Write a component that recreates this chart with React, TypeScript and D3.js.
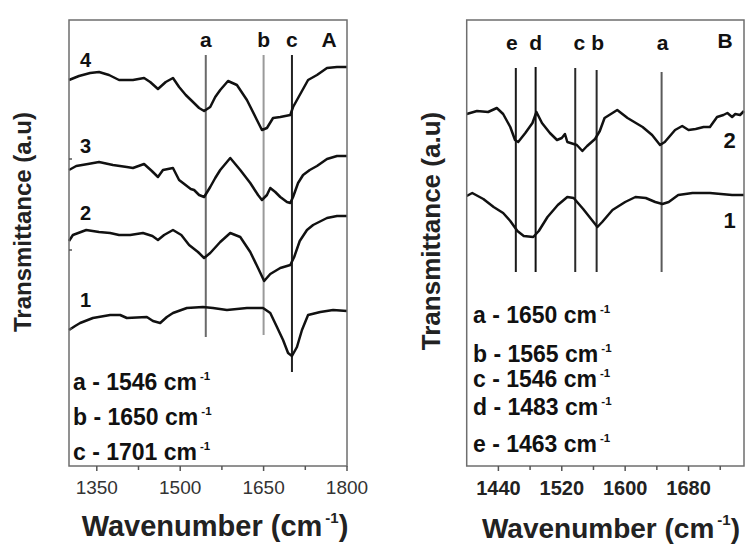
import React from "react";
import * as d3 from "d3";

// ---------- Panel A data (wavenumber, transmittance a.u.) ----------
const a4Wn = [1300, 1318, 1338, 1354, 1372, 1390, 1415, 1435, 1446, 1460, 1474, 1487, 1498, 1510, 1523, 1534, 1543, 1554, 1563, 1572, 1586, 1602, 1620, 1638, 1647, 1656, 1667, 1680, 1698, 1703, 1715, 1730, 1746, 1764, 1782, 1800];
const a4T = [386, 390, 393, 394, 391, 386, 386, 388, 384, 377, 384, 388, 379, 371, 364, 358, 355, 359, 369, 376, 385, 381, 366, 346, 336, 338, 348, 349, 351, 359, 371, 386, 391, 398, 399, 399];

const a3Wn = [1300, 1313, 1334, 1354, 1379, 1404, 1415, 1435, 1449, 1460, 1469, 1487, 1498, 1505, 1519, 1525, 1534, 1543, 1554, 1563, 1572, 1590, 1608, 1626, 1640, 1647, 1656, 1662, 1671, 1680, 1692, 1698, 1703, 1712, 1721, 1733, 1746, 1764, 1782, 1800];
const a3T = [296, 300, 302, 304, 301, 299, 298, 302, 295, 289, 296, 298, 286, 283, 277, 276, 271, 269, 279, 288, 296, 308, 296, 283, 271, 266, 271, 278, 274, 269, 264, 263, 269, 283, 291, 296, 300, 307, 310, 310];

const a2Wn = [1300, 1307, 1331, 1354, 1374, 1390, 1410, 1433, 1450, 1460, 1471, 1487, 1502, 1516, 1532, 1543, 1554, 1572, 1590, 1608, 1626, 1640, 1651, 1662, 1680, 1698, 1705, 1715, 1728, 1739, 1764, 1782, 1800];
const a2T = [225, 231, 236, 234, 233, 231, 231, 233, 230, 226, 231, 236, 231, 221, 214, 208, 213, 224, 233, 229, 214, 198, 185, 192, 198, 201, 209, 225, 236, 241, 248, 250, 250];

const a1Wn = [1300, 1311, 1320, 1343, 1374, 1392, 1404, 1440, 1451, 1464, 1476, 1487, 1512, 1541, 1559, 1584, 1620, 1649, 1662, 1674, 1685, 1694, 1701, 1710, 1719, 1730, 1752, 1775, 1800];
const a1T = [136, 140, 143, 148, 151, 151, 148, 149, 145, 143, 149, 153, 158, 159, 158, 156, 158, 158, 153, 139, 126, 113, 110, 119, 136, 151, 154, 156, 155];

const aCurveNames = ["4", "3", "2", "1"];
const aCurveLabelT = [399, 313, 246, 159];

const aMarkerNames = ["a", "b", "c"];
const aMarkerWn = [1546, 1650, 1701];
const aMarkerBottomT = [129, 131, 94];
const aMarkerColors = ["#6a6a6a", "#9a9a9a", "#222"];

const aLegend = ["a - 1546 cm", "b - 1650 cm", "c - 1701 cm"];
const aXTicks = [1350, 1500, 1650, 1800];
const aXMinor = [1425, 1575, 1725];
const aYMinor = [137, 216, 307];

// ---------- Panel B data ----------
const b2Wn = [1400, 1413, 1427, 1438, 1446, 1455, 1461, 1465, 1474, 1483, 1488, 1495, 1505, 1514, 1520, 1524, 1527, 1539, 1546, 1552, 1562, 1568, 1574, 1590, 1603, 1622, 1634, 1644, 1650, 1663, 1672, 1680, 1689, 1699, 1707, 1716, 1724, 1729, 1735, 1739, 1745, 1750];
const b2T = [352, 355, 354, 358, 352, 339, 326, 324, 333, 343, 354, 343, 333, 326, 328, 332, 324, 321, 315, 320, 327, 335, 348, 356, 348, 339, 331, 321, 324, 336, 340, 336, 337, 339, 339, 349, 351, 353, 349, 352, 351, 355];

const b1Wn = [1400, 1407, 1421, 1434, 1446, 1455, 1464, 1472, 1484, 1491, 1502, 1515, 1527, 1535, 1547, 1559, 1565, 1571, 1584, 1600, 1613, 1626, 1638, 1647, 1655, 1667, 1685, 1707, 1735, 1750];
const b1T = [270, 273, 267, 259, 253, 245, 235, 230, 229, 235, 249, 261, 269, 268, 257, 245, 239, 244, 256, 264, 269, 268, 264, 262, 264, 271, 273, 273, 271, 271];

const bCurveNames = ["2", "1"];
const bCurveLabelT = [318, 238];

const bMarkerNames = ["e", "d", "c", "b", "a"];
const bMarkerWn = [1462, 1487, 1537, 1564, 1646];
const bMarkerTopT = [398, 399, 398, 396, 394];
const bMarkerLabelDx = [-4, 0, 4, 1, 1];
const bMarkerColors = ["#1a1a1a", "#111", "#2a2a2a", "#2a2a2a", "#5a5a5a"];

const bLegend = ["a - 1650 cm", "b - 1565 cm", "c - 1546 cm", "d - 1483 cm", "e - 1463 cm"];
const bLegendBaselines = [323, 362, 387, 415, 452];
const bXTicks = [1440, 1520, 1600, 1680];
const bXMinor = [1480, 1560, 1640, 1720];

// ---------- layout ----------
const FONT = "'Liberation Sans', Arial, Helvetica, sans-serif";
const TOP = 20;
const BOTTOM = 466;

const y = d3.scaleLinear().domain([0, 446]).range([BOTTOM, TOP]);
const xA = d3.scaleLinear().domain([1300, 1800]).range([69, 347]);
const xB = d3.scaleLinear().domain([1400, 1750]).range([466.7, 744]);

function zip(wn: number[], t: number[]) {
  return wn.map((w, i) => [w, t[i]] as [number, number]);
}

function CmText({ x, yPos, text, size, weight = 700 }: { x: number; yPos: number; text: string; size: number; weight?: number }) {
  return (
    <text x={x} y={yPos} fontFamily={FONT} fontSize={size} fontWeight={weight} fill="#111">
      {text}
      <tspan dx={3} dy={-size * 0.45} fontSize={size * 0.5}>-1</tspan>
    </text>
  );
}

export default function App() {
  const lineA = d3.line<[number, number]>().x((d) => xA(d[0])).y((d) => y(d[1]));
  const lineB = d3.line<[number, number]>().x((d) => xB(d[0])).y((d) => y(d[1]));

  const aCurves = [zip(a4Wn, a4T), zip(a3Wn, a3T), zip(a2Wn, a2T), zip(a1Wn, a1T)];
  const bCurves = [zip(b2Wn, b2T), zip(b1Wn, b1T)];

  const [ax0, ax1] = xA.range();
  const [bx0, bx1] = xB.range();

  return (
    <div style={{ position: "fixed", left: 0, top: 0, width: 753, height: 544, background: "#fff" }}>
      <svg width={753} height={544} style={{ display: "block" }}>
        <rect width={753} height={544} fill="#fff" />

        {/* ===== Panel A ===== */}
        {aMarkerWn.map((w, i) => (
          <line key={"am" + i} x1={xA(w)} x2={xA(w)} y1={y(411)} y2={y(aMarkerBottomT[i])} stroke={aMarkerColors[i]} strokeWidth={2} />
        ))}
        {aCurves.map((c, i) => (
          <path key={"ac" + i} d={lineA(c) || ""} fill="none" stroke="#111" strokeWidth={2.5} strokeLinejoin="round" />
        ))}
        <rect x={ax0} y={TOP} width={ax1 - ax0} height={BOTTOM - TOP} fill="none" stroke="#6e6e6e" strokeWidth={1.5} />
        {aXTicks.map((t) => (
          <g key={"axt" + t}>
            <line x1={xA(t)} x2={xA(t)} y1={BOTTOM} y2={BOTTOM + 5} stroke="#555" strokeWidth={1.5} />
            <text x={xA(t)} y={494} textAnchor="middle" fontFamily={FONT} fontSize={19} fill="#333">{t}</text>
          </g>
        ))}
        {aXMinor.map((t) => (
          <line key={"axm" + t} x1={xA(t)} x2={xA(t)} y1={BOTTOM} y2={BOTTOM + 4} stroke="#555" strokeWidth={1.5} />
        ))}
        {aYMinor.map((t) => (
          <line key={"aym" + t} x1={ax0} x2={ax0 + 3} y1={y(t)} y2={y(t)} stroke="#555" strokeWidth={1.5} />
        ))}
        {aMarkerNames.map((n, i) => (
          <text key={"amn" + i} x={xA(aMarkerWn[i])} y={47} textAnchor="middle" fontFamily={FONT} fontSize={21} fontWeight={700} fill="#111">{n}</text>
        ))}
        <text x={329} y={47} textAnchor="middle" fontFamily={FONT} fontSize={21} fontWeight={700} fill="#111">A</text>
        {aCurveNames.map((n, i) => (
          <text key={"acn" + i} x={xA(1330)} y={y(aCurveLabelT[i])} textAnchor="middle" fontFamily={FONT} fontSize={20} fontWeight={700} fill="#111">{n}</text>
        ))}
        {aLegend.map((s, i) => (
          <CmText key={"al" + i} x={73} yPos={390 + i * 35} text={s} size={23} />
        ))}
        <text transform="translate(31,222) rotate(-90)" textAnchor="middle" fontFamily={FONT} fontSize={24} fontWeight={700} fill="#222">Transmittance (a.u)</text>
        <text x={215} y={536} textAnchor="middle" fontFamily={FONT} fontSize={29} fontWeight={700} fill="#222">
          Wavenumber (cm<tspan dx={3} dy={-13} fontSize={15}>-1</tspan><tspan dy={13}>)</tspan>
        </text>

        {/* ===== Panel B ===== */}
        {bMarkerWn.map((w, i) => (
          <line key={"bm" + i} x1={xB(w)} x2={xB(w)} y1={y(bMarkerTopT[i])} y2={y(194)} stroke={bMarkerColors[i]} strokeWidth={2} />
        ))}
        {bCurves.map((c, i) => (
          <path key={"bc" + i} d={lineB(c) || ""} fill="none" stroke="#111" strokeWidth={2.5} strokeLinejoin="round" />
        ))}
        <rect x={bx0} y={TOP} width={bx1 - bx0} height={BOTTOM - TOP} fill="none" stroke="#6e6e6e" strokeWidth={1.5} />
        {bXTicks.map((t) => (
          <g key={"bxt" + t}>
            <line x1={xB(t)} x2={xB(t)} y1={BOTTOM} y2={BOTTOM + 5} stroke="#555" strokeWidth={1.5} />
            <text x={xB(t)} y={495} textAnchor="middle" fontFamily={FONT} fontSize={20} fontWeight={700} fill="#222">{t}</text>
          </g>
        ))}
        {bXMinor.map((t) => (
          <line key={"bxm" + t} x1={xB(t)} x2={xB(t)} y1={BOTTOM} y2={BOTTOM + 4} stroke="#555" strokeWidth={1.5} />
        ))}
        {bMarkerNames.map((n, i) => (
          <text key={"bmn" + i} x={xB(bMarkerWn[i]) + bMarkerLabelDx[i]} y={50} textAnchor="middle" fontFamily={FONT} fontSize={21} fontWeight={700} fill="#111">{n}</text>
        ))}
        <text x={725} y={48} textAnchor="middle" fontFamily={FONT} fontSize={21} fontWeight={700} fill="#111">B</text>
        {bCurveNames.map((n, i) => (
          <text key={"bcn" + i} x={xB(1732)} y={y(bCurveLabelT[i])} textAnchor="middle" fontFamily={FONT} fontSize={22} fontWeight={700} fill="#111">{n}</text>
        ))}
        {bLegend.map((s, i) => (
          <CmText key={"bl" + i} x={473} yPos={bLegendBaselines[i]} text={s} size={23} />
        ))}
        <text transform="translate(440,231) rotate(-90)" textAnchor="middle" fontFamily={FONT} fontSize={26} fontWeight={700} fill="#222">Transmittance (a.u)</text>
        <text x={611} y={538} textAnchor="middle" fontFamily={FONT} fontSize={28} fontWeight={700} fill="#222">
          Wavenumber (cm<tspan dx={3} dy={-13} fontSize={15}>-1</tspan><tspan dy={13}>)</tspan>
        </text>
      </svg>
    </div>
  );
}
